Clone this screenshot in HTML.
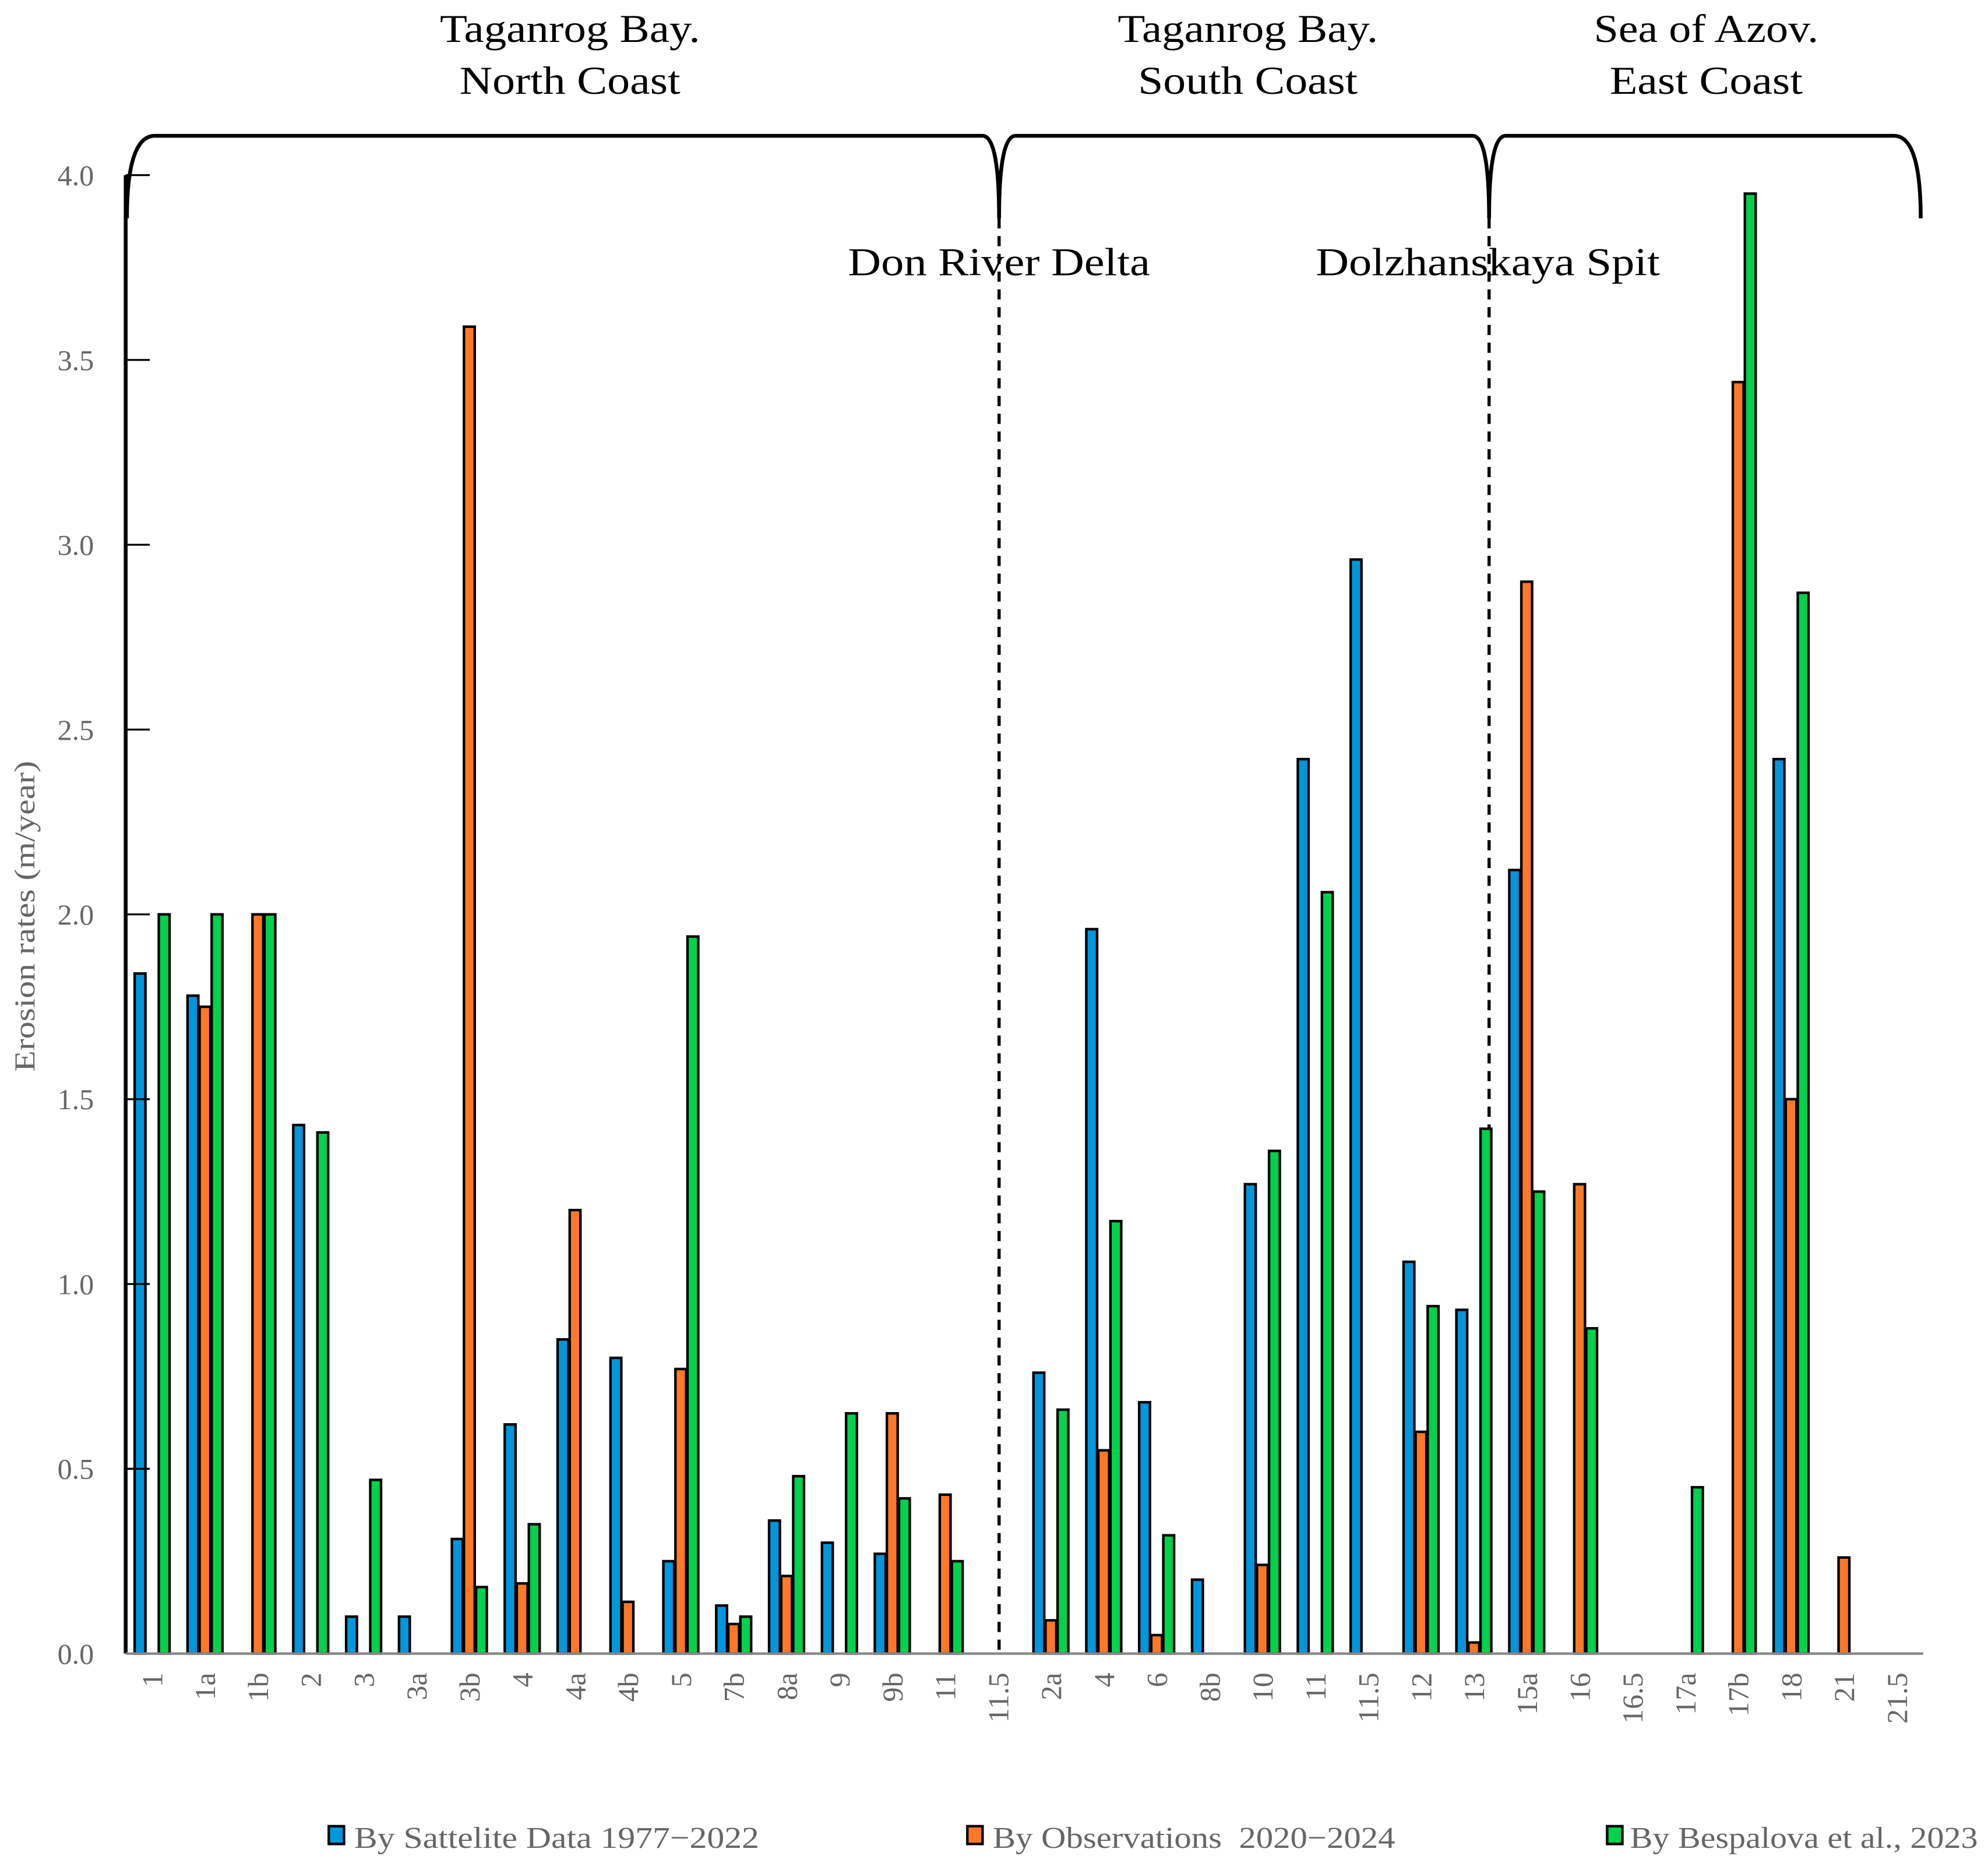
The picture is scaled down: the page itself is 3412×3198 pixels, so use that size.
<!DOCTYPE html>
<html><head><meta charset="utf-8"><style>
html,body{margin:0;padding:0;background:#fff;}
svg{display:block;}
text{font-family:"Liberation Serif",serif;}
</style></head>
<body>
<svg id="chart" width="3412" height="3198" viewBox="0 0 1566 1468" preserveAspectRatio="none" xmlns="http://www.w3.org/2000/svg">
<g font-size="31" fill="#000" text-anchor="middle" lengthAdjust="spacingAndGlyphs">
<text x="449" y="33" textLength="205" lengthAdjust="spacingAndGlyphs">Taganrog Bay.</text>
<text x="449" y="74" textLength="174" lengthAdjust="spacingAndGlyphs">North Coast</text>
<text x="983" y="33" textLength="205" lengthAdjust="spacingAndGlyphs">Taganrog Bay.</text>
<text x="983" y="74" textLength="173" lengthAdjust="spacingAndGlyphs">South Coast</text>
<text x="1344" y="33" textLength="177" lengthAdjust="spacingAndGlyphs">Sea of Azov.</text>
<text x="1344" y="74" textLength="152" lengthAdjust="spacingAndGlyphs">East Coast</text>
<text x="787" y="217" textLength="238" lengthAdjust="spacingAndGlyphs">Don River Delta</text>
<text x="1172" y="217" textLength="271" lengthAdjust="spacingAndGlyphs">Dolzhanskaya Spit</text>
</g>
<path fill="none" stroke="#000" stroke-width="3" d="M100,172 Q100,107 122,107 L774,107 Q787,107 787,172 Q787,107 800,107 L1160,107 Q1173,107 1173,172 Q1173,107 1186,107 L1492,107 Q1513,107 1513,172"/>
<line x1="787" y1="172" x2="787" y2="1303" stroke="#000" stroke-width="2.5" stroke-dasharray="8,6"/>
<line x1="1173" y1="172" x2="1173" y2="1303" stroke="#000" stroke-width="2.5" stroke-dasharray="8,6"/>
<g id="bars"></g>
<g id="yaxis"></g>
<g id="xaxis"></g>
<text transform="translate(27,722) rotate(-90)" text-anchor="middle" font-size="23" fill="#666" textLength="245" lengthAdjust="spacingAndGlyphs">Erosion rates (m/year)</text>
<g font-size="24" fill="#666">
<g><rect x="259" y="1439" width="12" height="14" fill="#0096DC" stroke="#000" stroke-width="2"/><text x="279" y="1456" textLength="319" lengthAdjust="spacingAndGlyphs">By Sattelite Data 1977−2022</text></g>
<g><rect x="762" y="1439" width="12" height="14" fill="#FF7828" stroke="#000" stroke-width="2"/><text x="782" y="1456" xml:space="preserve" textLength="317" lengthAdjust="spacingAndGlyphs">By Observations  2020−2024</text></g>
<g><rect x="1266" y="1439" width="12" height="14" fill="#00D24B" stroke="#000" stroke-width="2"/><text x="1284" y="1456" textLength="274" lengthAdjust="spacingAndGlyphs">By Bespalova et al., 2023</text></g>
</g>
</svg>
<script>
const categories = ["1","1a","1b","2","3","3a","3b","4","4a","4b","5","7b","8a","9","9b","11","11.5","2a","4","6","8b","10","11","11.5","12","13","15a","16","16.5","17a","17b","18","21","21.5"];
const satellite = [1.84,1.78,null,1.43,0.10,0.10,0.31,0.62,0.85,0.80,0.25,0.13,0.36,0.30,0.27,null,null,0.76,1.96,0.68,0.20,1.27,2.42,2.96,1.06,0.93,2.12,null,null,null,null,2.42,null,null];
const observations = [null,1.75,2.00,null,null,null,3.59,0.19,1.20,0.14,0.77,0.08,0.21,null,0.65,0.43,null,0.09,0.55,0.05,null,0.24,null,null,0.60,0.03,2.90,1.27,null,null,3.44,1.50,0.26,null];
const bespalova = [2.00,2.00,2.00,1.41,0.47,null,0.18,0.35,null,null,1.94,0.10,0.48,0.65,0.42,0.25,null,0.66,1.17,0.32,null,1.36,2.06,null,0.94,1.42,1.25,0.88,null,0.45,3.95,2.87,null,null];
const yTicks = ["0.0","0.5","1.0","1.5","2.0","2.5","3.0","3.5","4.0"];

const NS = "http://www.w3.org/2000/svg";
const X0 = 99, X1 = 1515, Y0 = 1303, Y4 = 138;
const band = (X1 - X0) / categories.length;
const xc = i => X0 + band * (i + 0.5);
const y = v => Y0 - (Y0 - Y4) * v / 4;
function mk(tag, attrs, parent){ const e = document.createElementNS(NS, tag); for (const k in attrs) e.setAttribute(k, attrs[k]); parent.appendChild(e); return e; }

const barsG = document.getElementById('bars');
const series = [[satellite,"#0096DC",-9.5,"satellite"],[observations,"#FF7828",0,"observations"],[bespalova,"#00D24B",9.5,"bespalova"]];
series.forEach(([vals,color,off,name]) => {
  vals.forEach((v,i) => {
    if (v === null) return;
    const w = 8.5;
    const r = mk('rect', {x: xc(i)+off-w/2, y: y(v), width: w, height: Y0 - y(v), fill: color, stroke: '#000', 'stroke-width': 2}, barsG);
    
    
  });
});

const yG = document.getElementById('yaxis');
const yl = mk('line', {x1: X0, y1: Y0, x2: X0, y2: Y4, stroke: '#000', 'stroke-width': 3}, yG);


yTicks.forEach(t => {
  const v = parseFloat(t);
  const tk = mk('line', {x1: X0, y1: y(v), x2: X0 + 19, y2: y(v), stroke: '#000', 'stroke-width': 1.5}, yG);
  
  
  const tx = mk('text', {x: 74, y: y(v) + 8, 'text-anchor': 'end', 'font-size': 23, fill: '#666'}, yG);
  tx.textContent = t;
  
  
});

const xG = document.getElementById('xaxis');
const xl = mk('line', {x1: X0, y1: Y0, x2: X1, y2: Y0, stroke: '#888', 'stroke-width': 2}, xG);


categories.forEach((c,i) => {
  const tx = mk('text', {transform: 'translate(' + (xc(i) + 8) + ',1318) rotate(-90)', 'text-anchor': 'end', 'font-size': 23, fill: '#666'}, xG);
  tx.textContent = c;
  
  
});
</script>
</body></html>
